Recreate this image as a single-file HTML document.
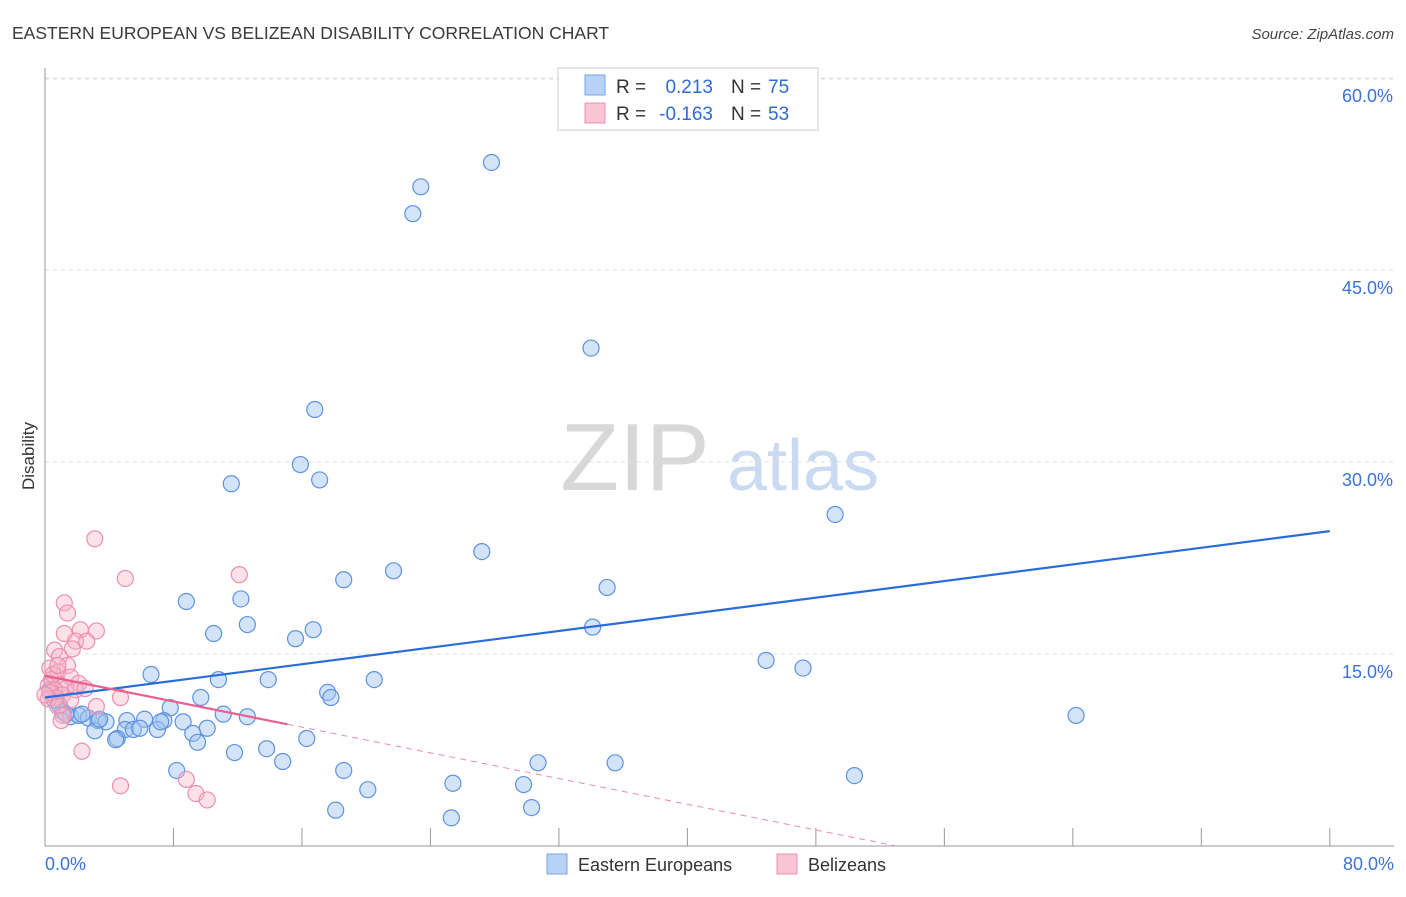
<!DOCTYPE html>
<html><head><meta charset="utf-8"><style>
body{margin:0;background:#fff;font-family:"Liberation Sans",sans-serif;}
svg text{font-family:"Liberation Sans",sans-serif;}
</style></head><body>
<svg id="chart" width="1406" height="892" xmlns="http://www.w3.org/2000/svg">
<text x="12" y="39" font-size="17.5" fill="#3a3a3a">EASTERN EUROPEAN VS BELIZEAN DISABILITY CORRELATION CHART</text>
<text x="1394" y="39" font-size="15" fill="#444" text-anchor="end" font-style="italic">Source: ZipAtlas.com</text>
<g>
<text x="635" y="490" font-size="96" fill="#d8d8d8" font-family="Liberation Serif,serif" text-anchor="middle">ZIP</text>
<text x="803" y="490" font-size="72" fill="#c9daf2" text-anchor="middle">atlas</text>
</g>
<g id="grid"></g>
<g id="axes"></g>
<g id="marks"></g>
<text transform="translate(34,456) rotate(-90)" font-size="17" fill="#333" text-anchor="middle">Disability</text>
<g>
<rect x="558" y="68" width="260" height="62" fill="#fff" stroke="#ccc"/>
<rect x="585" y="75" width="20" height="20" fill="#b8d2f5" stroke="#7aa6e6"/>
<rect x="585" y="103" width="20" height="20" fill="#f9c4d4" stroke="#ec8fae"/>
<text x="616" y="93" font-size="19" fill="#333">R =</text>
<text x="713" y="93" font-size="19" fill="#2f6bd6" text-anchor="end">0.213</text>
<text x="731" y="93" font-size="19" fill="#333">N =</text>
<text x="768" y="93" font-size="19" fill="#2f6bd6">75</text>
<text x="616" y="120" font-size="19" fill="#333">R =</text>
<text x="713" y="120" font-size="19" fill="#2f6bd6" text-anchor="end">-0.163</text>
<text x="731" y="120" font-size="19" fill="#333">N =</text>
<text x="768" y="120" font-size="19" fill="#2f6bd6">53</text>
</g>
<g>
<rect x="547" y="854" width="20" height="20" fill="#b8d2f5" stroke="#7aa6e6"/>
<text x="578" y="871" font-size="18" fill="#333">Eastern Europeans</text>
<rect x="777" y="854" width="20" height="20" fill="#f9c4d4" stroke="#ec8fae"/>
<text x="808" y="871" font-size="18" fill="#333">Belizeans</text>
</g>
</svg>
<script>
const yTicks=[15,30,45,60];
const yTickLabels=["15.0%","30.0%","45.0%","60.0%"];
const blueX=[27.8,23.4,22.9,34.0,16.8,15.9,11.6,17.1,49.2,27.2,21.7,18.6,35.0,8.8,12.2,12.6,10.5,15.6,16.7,34.1,44.9,47.2,6.6,10.8,13.9,20.5,17.6,17.8,9.7,7.8,11.1,12.6,64.2,1.1,1.6,2.1,2.7,3.3,3.8,5.1,6.2,7.4,8.6,5.0,5.5,5.9,7.0,3.1,10.1,9.2,4.5,4.4,9.5,16.3,11.8,13.8,14.8,8.2,18.6,30.7,35.5,25.4,29.8,50.4,20.1,18.1,30.3,25.3,0.9,0.6,1.3,0.3,2.3,3.4,7.2];
const blueY=[53.4,51.5,49.4,38.9,34.1,29.8,28.3,28.6,25.9,23.0,21.5,20.8,20.2,19.1,19.3,17.3,16.6,16.2,16.9,17.1,14.5,13.9,13.4,13.0,13.0,13.0,12.0,11.6,11.6,10.8,10.3,10.1,10.2,10.5,10.1,10.2,10.0,9.8,9.7,9.8,9.9,9.8,9.7,9.1,9.1,9.2,9.1,9.0,9.2,8.8,8.4,8.3,8.1,8.4,7.3,7.6,6.6,5.9,5.9,6.5,6.5,4.9,4.8,5.5,4.4,2.8,3.0,2.2,11.0,11.4,10.3,12.2,10.3,9.9,9.7];
const pinkX=[3.1,5.0,12.1,1.2,1.4,3.2,2.2,1.2,1.9,2.6,1.7,0.6,0.9,1.4,0.3,0.8,1.6,0.4,2.1,0.9,0.2,1.3,0.6,1.9,0.3,1.1,0.7,0.2,4.7,0.8,3.2,1.1,1.0,2.3,4.7,8.8,9.4,10.1,0.5,1.6,2.5,0,0.8];
const pinkY=[24.0,20.9,21.2,19.0,18.2,16.8,16.9,16.6,16.0,16.0,15.4,15.3,14.8,14.1,13.9,13.6,13.2,13.0,12.7,12.6,12.5,12.3,12.2,12.2,12.0,11.8,11.6,11.5,11.6,10.9,10.9,10.2,9.8,7.4,4.7,5.2,4.1,3.6,13.4,11.4,12.3,11.8,14.1];
const blueTrend=[11.6,24.6];
const pinkTrend=[13.3,-0.251];
const NS="http://www.w3.org/2000/svg";
const X=v=>45+v*16.06, Y=v=>846-v*12.8;
function mk(tag,attrs,parent){const e=document.createElementNS(NS,tag);for(const k in attrs)e.setAttribute(k,attrs[k]);parent.appendChild(e);return e;}
const grid=document.getElementById('grid'),axes=document.getElementById('axes'),marks=document.getElementById('marks');
yTicks.forEach((t,i)=>{
 const l=mk('line',{x1:45,x2:1394,y1:Y(t),y2:Y(t),stroke:'#ddd','stroke-dasharray':'4,4'},grid);
 
 
 const tx=mk('text',{x:1393,y:Y(t)+24,'font-size':18,fill:'#3b73d6','text-anchor':'end'},axes);
 tx.textContent=yTickLabels[i];
 
 
});
const topGrid=mk('line',{x1:45,x2:1394,y1:79,y2:79,stroke:'#ddd','stroke-dasharray':'4,4'},grid);


const ya=mk('line',{x1:45,x2:45,y1:68,y2:846,stroke:'#999'},axes);


const xa=mk('line',{x1:45,x2:1394,y1:846,y2:846,stroke:'#999'},axes);


for(let v=8;v<=80;v+=8){const tk=mk('line',{x1:X(v),x2:X(v),y1:828,y2:846,stroke:'#999'},axes);
 
 }
const x0=mk('text',{x:45,y:870,'font-size':18,fill:'#3b73d6'},axes);x0.textContent='0.0%';


const x1=mk('text',{x:1394,y:870,'font-size':18,fill:'#3b73d6','text-anchor':'end'},axes);x1.textContent='80.0%';


blueX.forEach((v,i)=>{const c=mk('circle',{cx:X(v),cy:Y(blueY[i]),r:8,fill:'rgba(160,195,240,0.45)',stroke:'#5d92e0','stroke-width':1.2},marks);
 
 });
pinkX.forEach((v,i)=>{const c=mk('circle',{cx:X(v),cy:Y(pinkY[i]),r:8,fill:'rgba(248,180,200,0.4)',stroke:'#ec8fae','stroke-width':1.2},marks);
 
 });
const bt=mk('line',{x1:X(0),y1:Y(blueTrend[0]),x2:X(80),y2:Y(blueTrend[1]),stroke:'#2a6dd8','stroke-width':2.2},marks);


const pEnd=15.1, pZero=-pinkTrend[0]/pinkTrend[1];
const pt=mk('line',{x1:X(0),y1:Y(pinkTrend[0]),x2:X(pEnd),y2:Y(pinkTrend[0]+pinkTrend[1]*pEnd),stroke:'#e8608e','stroke-width':2.2},marks);


const pd=mk('line',{x1:X(pEnd),y1:Y(pinkTrend[0]+pinkTrend[1]*pEnd),x2:X(pZero),y2:Y(0),stroke:'#eb8aab','stroke-width':1,'stroke-dasharray':'6,5'},marks);


</script>
</body></html>
